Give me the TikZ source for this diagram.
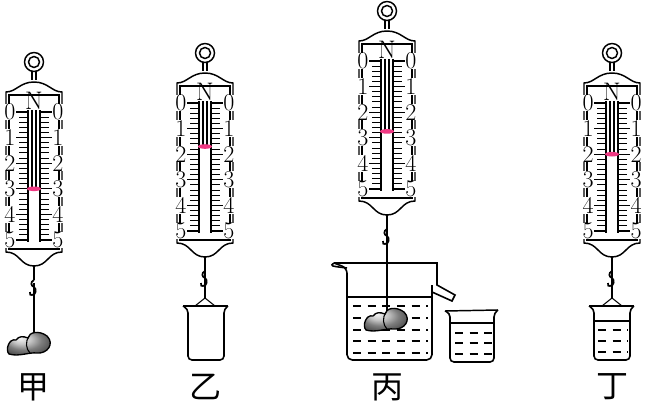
\documentclass[tikz,border=0pt]{standalone}
\usepackage{fontspec}
\newfontfamily\cjk{Noto Sans CJK SC}
\begin{document}
\begin{tikzpicture}[x=0.75pt,y=-0.75pt,line width=1.1pt,
  lbl/.style={font=\cjk\fontsize{24}{24}\selectfont},
  num/.style={font=\fontsize{18}{18}\selectfont,inner sep=0.2pt,fill=white},
  rock/.style={draw,line width=1pt,ball color=gray!60}]
\useasboundingbox (0,0) rectangle (649,410);
\newcommand\rockshape{%
  \draw[rock] (373,316) .. controls (366,314) and (362,326) .. (366,330) .. controls (376,333) and (386,328) .. (394,329)
  .. controls (404,330) and (412,320) .. (404,312) .. controls (396,306) and (386,308) .. (385,314) .. controls (380,312) and (376,312) .. cycle;
  \draw[line width=0.8pt] (386,312) .. controls (382,318) and (383,325) .. (387,329);}
\newcommand\springscale[3]{%
  \pgfmathsetmacro\tp{#2-24}\pgfmathsetmacro\bt{#2+140}
  \draw (#1,{#2-50}) circle (9.5);
  \draw (#1,{#2-50}) circle (5.5);
  \draw ({#1-2},{#2-40.5}) -- ({#1-2},{#2-32}) ({#1+2},{#2-40.5}) -- ({#1+2},{#2-32});
  \draw[fill=white] ({#1-28},\tp+4) .. controls ({#1-18},\tp+4) and ({#1-14},\tp-6) .. (#1,\tp-6)
     .. controls ({#1+14},\tp-6) and ({#1+18},\tp+4) .. ({#1+28},\tp+4)
     -- ({#1+28},\bt) .. controls ({#1+14},\bt) and ({#1+14},\bt+14) .. (#1,\bt+14)
     .. controls ({#1-14},\bt+14) and ({#1-14},\bt) .. ({#1-28},\bt) -- cycle;
  \draw[line width=0.8pt] ({#1-25},\tp+7) rectangle ({#1+25},\bt-3);
  \node[font=\fontsize{19}{19}\selectfont,inner sep=0pt] at (#1,{#2-11}) {N};
  \foreach \k in {0,...,25}{
    \pgfmathsetmacro\yy{#2+\k*25.6/5}
    \draw[line width=0.8pt] ({#1-15},\yy) -- ({#1-7},\yy) ({#1+7},\yy) -- ({#1+15},\yy);}
  \foreach \n in {0,...,5}{
    \pgfmathsetmacro\yy{#2+\n*25.6}
    \draw[line width=1pt] ({#1-19},\yy) -- ({#1-7},\yy) ({#1+7},\yy) -- ({#1+19},\yy);
    \node[num] at ({#1-24},\yy) {\n};
    \node[num] at ({#1+24},\yy) {\n};}
  \draw[line width=0.9pt] ({#1-6},{#2-2}) -- ({#1-6},{#2+130}) ({#1+6},{#2-2}) -- ({#1+6},{#2+130});
  \pgfmathsetmacro\py{#2+#3*25.6}
  \draw[line width=0.8pt] ({#1-2},{#2-2}) -- ({#1-2},\py) ({#1+2},{#2-2}) -- ({#1+2},\py);
  \fill[magenta!70!red!80] (#1,\py) ellipse (7 and 2.3);
  \draw (#1,\bt+14) -- (#1,\bt+28);
  \draw[line width=1.3pt] (#1,\bt+28) .. controls ({#1-4},\bt+30) and ({#1-3},\bt+34) .. (#1,\bt+35)
     .. controls ({#1+3},\bt+37) and ({#1+2},\bt+43) .. ({#1-2},\bt+43) .. controls ({#1-4},\bt+43) .. ({#1-4},\bt+40);
}
\newcommand\dashrow[3]{\draw[line width=0.8pt,dash pattern=on 6pt off 5pt] (#1,#3) -- (#2,#3);}
% 甲
\springscale{34}{112}{3}
\draw (34,283) -- (34,335);
\begin{scope}[shift={(-357,24)}]\rockshape\end{scope}
% 乙
\springscale{205}{103}{1.7}
\draw (205,271) -- (205,298);
\draw[line width=0.8pt] (205,298) -- (195,306) -- (215,306) -- cycle;
\draw[line width=1.2pt,rounded corners=3pt] (183,306) -- (188,309) -- (188,360) -- (224,360) -- (224,309) -- (228,306);
\draw (183,306) -- (228,306);
% 丙
\springscale{387}{61}{2.75}
\draw (387,229) -- (387,312);
\draw[line width=1.2pt,rounded corners=4pt] (334,263) -- (347,268) -- (347,360) -- (432,360) -- (432,285);
\draw[line width=1.2pt] (334,263) .. controls (330,266) .. (347,268);
\draw[line width=1.2pt] (334,263) -- (437,263) -- (437,285) -- (455,295) -- (452,301) -- (432,292);
\draw[line width=0.9pt] (347,297) -- (432,297);
\foreach \yy in {306,318,330,341,353}{\dashrow{353}{428}{\yy}}
\rockshape
% small beaker
\draw[line width=1.2pt,rounded corners=3pt] (445,311) -- (450,313) -- (450,362) -- (494,362) -- (494,313) -- (498,310);
\draw (445,311) -- (498,310);
\draw[line width=0.9pt] (450,323) -- (494,323);
\foreach \yy in {333,343,354}{\dashrow{455}{492}{\yy}}
% 丁
\springscale{612}{103}{2.0}
\draw (612,271) -- (612,298);
\draw[line width=0.8pt] (612,298) -- (602,306) -- (622,306) -- cycle;
\draw[line width=1.2pt,rounded corners=3pt] (589,306) -- (594,309) -- (594,360) -- (630,360) -- (630,309) -- (634,306);
\draw (589,306) -- (634,306);
\draw[line width=0.9pt] (594,321) -- (630,321);
\foreach \yy in {330,341,352}{\dashrow{598}{628}{\yy}}
% labels
\node[lbl] (a) at (33,387) {甲};
\node[lbl] (b) at (205,387) {乙};
\node[lbl] (c) at (387,387) {丙};
\node[lbl] (d) at (612,387) {丁};
\end{tikzpicture}
\end{document}
